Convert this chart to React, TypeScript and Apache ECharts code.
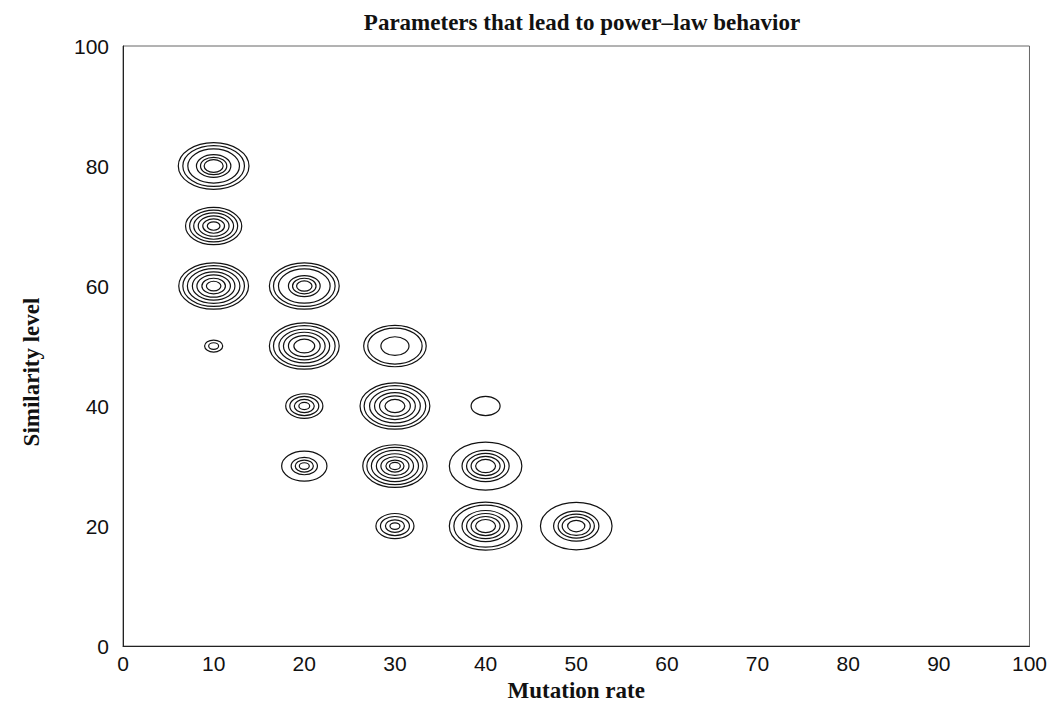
import React, { useEffect, useRef } from "react";
import * as echarts from "echarts";

// Cluster centres (mutation rate, similarity level)
const mutationRate = [10, 10, 10, 10, 20, 20, 20, 20, 30, 30, 30, 30, 40, 40, 40, 50];
const similarityLevel = [80, 70, 60, 50, 60, 50, 40, 30, 50, 40, 30, 20, 40, 30, 20, 20];
// Contour ring radii (in data units) for each cluster
const ringRadii: number[][] = [
  [3.9, 3.4, 2.85, 1.9, 1.45, 1.05],
  [3.1, 2.65, 2.2, 1.7, 1.2, 0.7],
  [3.85, 3.4, 2.9, 2.35, 1.85, 1.3, 0.8],
  [1.0, 0.55],
  [3.85, 3.4, 2.85, 1.75, 1.3, 0.85],
  [3.85, 3.4, 2.8, 2.3, 1.75, 1.15],
  [2.05, 1.6, 1.1, 0.6],
  [2.5, 1.45, 1.0, 0.55],
  [3.45, 3.0, 1.55],
  [3.85, 3.4, 2.8, 2.25, 1.7, 1.1],
  [3.55, 3.1, 2.6, 2.05, 1.55, 1.0, 0.6],
  [2.1, 1.6, 1.05, 0.55],
  [1.6],
  [4.0, 2.6, 2.1, 1.6, 1.1],
  [4.0, 3.5, 2.6, 2.1, 1.6, 1.1],
  [3.95, 2.5, 2.0, 1.55, 0.95],
];

const titleText = "Parameters that lead to power\u2013law behavior";
const xName = "Mutation rate";
const yName = "Similarity level";

export default function App() {
  const ref = useRef<HTMLDivElement>(null);
  useEffect(() => {
    if (!ref.current) return;
    const chart = echarts.init(ref.current, null, { renderer: "svg" });
    const data: number[][] = [];
    mutationRate.forEach((x, i) => {
      ringRadii[i].forEach((r) => data.push([x, similarityLevel[i], r]));
    });
    const serif = "'Liberation Serif', 'Times New Roman', serif";
    const sans = "'Liberation Sans', Arial, sans-serif";
    const nameFont = { fontFamily: serif, fontWeight: "bold", fontSize: 23, color: "#111" };
    chart.setOption({
      animation: false,
      backgroundColor: "#fff",
      title: {
        text: titleText,
        left: 577,
        top: 6,
        textAlign: "center",
        textStyle: { ...nameFont },
      },
      graphic: [
        {
          type: "text",
          x: 31,
          y: 372,
          rotation: Math.PI / 2,
          style: {
            text: yName,
            font: "bold 23px 'Liberation Serif', 'Times New Roman', serif",
            fill: "#111",
            align: "center",
            verticalAlign: "middle",
          },
        },
      ],
      grid: {
        left: 123,
        right: 18,
        top: 46,
        bottom: 57,
        show: true,
        borderColor: "#666",
        borderWidth: 1,
        backgroundColor: "transparent",
      },
      xAxis: {
        type: "value",
        min: 0,
        max: 100,
        interval: 10,
        name: xName,
        nameLocation: "middle",
        nameGap: 25,
        nameTextStyle: { ...nameFont },
        axisLine: { show: true, lineStyle: { color: "#222", width: 1 } },
        axisTick: { show: false },
        splitLine: { show: false },
        axisLabel: { fontFamily: sans, fontSize: 21, color: "#111", margin: 7 },
      },
      yAxis: {
        type: "value",
        min: 0,
        max: 100,
        interval: 20,
        axisLine: { show: true, lineStyle: { color: "#222", width: 1 } },
        axisTick: { show: false },
        splitLine: { show: false },
        axisLabel: { fontFamily: sans, fontSize: 21, color: "#111", margin: 14 },
      },
      series: [
        {
          type: "custom",
          encode: { x: 0, y: 1 },
          data,
          renderItem: (params: any, api: any) => {
            const c = api.coord([api.value(0), api.value(1)]);
            const r = api.value(2);
            const s = api.size([r, r]);
            return {
              type: "ellipse",
              shape: { cx: c[0], cy: c[1], rx: s[0], ry: s[1] },
              style: { fill: "none", stroke: "#111", lineWidth: 1.2 },
            };
          },
        },
      ],
    });
    return () => chart.dispose();
  }, []);
  return (
    <div
      ref={ref}
      style={{ position: "absolute", left: 0, top: 0, width: 1050, height: 707 }}
    />
  );
}
